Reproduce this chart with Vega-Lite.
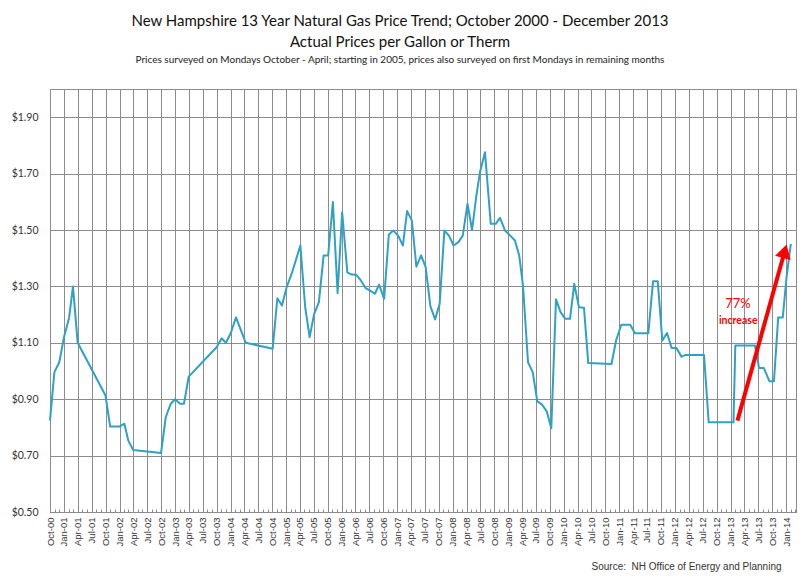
{
  "$schema": "https://vega.github.io/schema/vega-lite/v6.json",
  "autosize": "none",
  "width": 746,
  "height": 423,
  "padding": {"left": 50, "top": 89, "right": 4, "bottom": 69},
  "background": "white",
  "title": {
    "text": ["New Hampshire 13 Year Natural Gas Price Trend; October 2000 - December 2013", "Actual Prices per Gallon or Therm"],
    "subtitle": "Prices surveyed on Mondays  October - April; starting in 2005, prices also surveyed on first Mondays in remaining months",
    "anchor": "middle",
    "frame": "group",
    "dx": -23,
    "offset": 24,
    "font": "Lato",
    "fontSize": 15,
    "fontWeight": "normal",
    "lineHeight": 21,
    "color": "#111",
    "subtitleFont": "Lato",
    "subtitleFontSize": 10,
    "subtitleColor": "#222",
    "subtitlePadding": 5
  },
  "layer": [
    {
      "data": {"values": [
        {"date": "2000-10-01", "price": 0.824}, {"date": "2000-10-30", "price": 0.996}, {"date": "2000-12-01", "price": 1.031},
        {"date": "2001-01-01", "price": 1.12}, {"date": "2001-02-04", "price": 1.19}, {"date": "2001-03-01", "price": 1.30},
        {"date": "2001-04-01", "price": 1.10}, {"date": "2001-10-01", "price": 0.913}, {"date": "2001-11-01", "price": 0.803},
        {"date": "2002-01-01", "price": 0.803}, {"date": "2002-02-02", "price": 0.813}, {"date": "2002-02-28", "price": 0.753},
        {"date": "2002-04-01", "price": 0.72}, {"date": "2002-10-01", "price": 0.709}, {"date": "2002-11-01", "price": 0.836},
        {"date": "2002-12-04", "price": 0.884}, {"date": "2003-01-01", "price": 0.90}, {"date": "2003-02-04", "price": 0.884},
        {"date": "2003-03-01", "price": 0.884}, {"date": "2003-04-01", "price": 0.98}, {"date": "2003-10-01", "price": 1.084},
        {"date": "2003-11-04", "price": 1.116}, {"date": "2003-12-01", "price": 1.10}, {"date": "2004-01-01", "price": 1.132},
        {"date": "2004-02-06", "price": 1.19}, {"date": "2004-04-10", "price": 1.10}, {"date": "2004-10-04", "price": 1.079},
        {"date": "2004-11-04", "price": 1.258}, {"date": "2004-12-04", "price": 1.232}, {"date": "2005-01-04", "price": 1.297},
        {"date": "2005-02-06", "price": 1.345}, {"date": "2005-04-04", "price": 1.445}, {"date": "2005-05-06", "price": 1.226},
        {"date": "2005-06-04", "price": 1.12}, {"date": "2005-07-04", "price": 1.203}, {"date": "2005-08-04", "price": 1.244},
        {"date": "2005-09-04", "price": 1.41}, {"date": "2005-10-04", "price": 1.41}, {"date": "2005-11-04", "price": 1.599},
        {"date": "2005-12-05", "price": 1.276}, {"date": "2006-01-04", "price": 1.563}, {"date": "2006-02-07", "price": 1.35},
        {"date": "2006-03-07", "price": 1.342}, {"date": "2006-04-07", "price": 1.341}, {"date": "2006-05-07", "price": 1.321},
        {"date": "2006-06-07", "price": 1.294}, {"date": "2006-07-07", "price": 1.285}, {"date": "2006-08-07", "price": 1.274},
        {"date": "2006-09-04", "price": 1.306}, {"date": "2006-10-07", "price": 1.256}, {"date": "2006-11-07", "price": 1.484},
        {"date": "2006-12-07", "price": 1.498}, {"date": "2007-01-07", "price": 1.48}, {"date": "2007-02-07", "price": 1.445},
        {"date": "2007-03-07", "price": 1.567}, {"date": "2007-04-07", "price": 1.534}, {"date": "2007-05-07", "price": 1.37},
        {"date": "2007-06-07", "price": 1.41}, {"date": "2007-07-07", "price": 1.368}, {"date": "2007-08-07", "price": 1.23},
        {"date": "2007-09-07", "price": 1.183}, {"date": "2007-10-07", "price": 1.238}, {"date": "2007-11-07", "price": 1.498},
        {"date": "2007-12-07", "price": 1.48}, {"date": "2008-01-07", "price": 1.445}, {"date": "2008-02-07", "price": 1.457},
        {"date": "2008-03-07", "price": 1.48}, {"date": "2008-04-07", "price": 1.593}, {"date": "2008-05-07", "price": 1.50},
        {"date": "2008-06-04", "price": 1.62}, {"date": "2008-06-28", "price": 1.705}, {"date": "2008-07-31", "price": 1.776},
        {"date": "2008-09-07", "price": 1.522}, {"date": "2008-10-10", "price": 1.522}, {"date": "2008-11-07", "price": 1.543},
        {"date": "2008-12-10", "price": 1.498}, {"date": "2009-01-13", "price": 1.48}, {"date": "2009-02-13", "price": 1.463},
        {"date": "2009-03-13", "price": 1.41}, {"date": "2009-04-07", "price": 1.303}, {"date": "2009-05-10", "price": 1.031},
        {"date": "2009-06-10", "price": 0.996}, {"date": "2009-07-10", "price": 0.892}, {"date": "2009-08-10", "price": 0.881},
        {"date": "2009-09-10", "price": 0.857}, {"date": "2009-10-10", "price": 0.797}, {"date": "2009-11-10", "price": 1.254},
        {"date": "2009-12-10", "price": 1.209}, {"date": "2010-01-10", "price": 1.185}, {"date": "2010-02-10", "price": 1.185},
        {"date": "2010-03-10", "price": 1.309}, {"date": "2010-04-10", "price": 1.226}, {"date": "2010-05-13", "price": 1.224},
        {"date": "2010-06-10", "price": 1.028}, {"date": "2010-11-10", "price": 1.025}, {"date": "2010-12-10", "price": 1.108},
        {"date": "2011-01-13", "price": 1.164}, {"date": "2011-03-13", "price": 1.164}, {"date": "2011-04-13", "price": 1.134},
        {"date": "2011-07-10", "price": 1.134}, {"date": "2011-08-10", "price": 1.318}, {"date": "2011-09-10", "price": 1.318},
        {"date": "2011-10-10", "price": 1.108}, {"date": "2011-11-10", "price": 1.135}, {"date": "2011-12-10", "price": 1.082},
        {"date": "2012-01-10", "price": 1.082}, {"date": "2012-02-13", "price": 1.051}, {"date": "2012-03-13", "price": 1.057},
        {"date": "2012-07-10", "price": 1.057}, {"date": "2012-08-10", "price": 0.818}, {"date": "2013-01-20", "price": 0.818},
        {"date": "2013-02-01", "price": 1.09}, {"date": "2013-06-10", "price": 1.09}, {"date": "2013-07-07", "price": 1.011},
        {"date": "2013-08-07", "price": 1.011}, {"date": "2013-09-13", "price": 0.964}, {"date": "2013-10-13", "price": 0.964},
        {"date": "2013-11-10", "price": 1.19}, {"date": "2013-12-10", "price": 1.19}, {"date": "2014-01-04", "price": 1.333},
        {"date": "2014-02-01", "price": 1.451}
      ]},
      "mark": {"type": "line", "color": "#2ea2c4", "strokeWidth": 2, "strokeJoin": "round"},
      "encoding": {
        "x": {
          "field": "date", "type": "temporal",
          "scale": {"type": "utc", "domain": [{"year": 2000, "month": 10, "date": 1, "utc": true}, {"year": 2014, "month": 3, "date": 7, "utc": true}]},
          "axis": {
            "orient": "bottom",
            "tickCount": {"interval": "month", "step": 3},
            "labelExpr": "utcFormat(datum.value, '%b-%y')",
            "labelAngle": 270, "labelFont": "Liberation Sans", "labelFontSize": 9.5, "labelColor": "#333",
            "labelPadding": 5, "labelOverlap": false, "labelBound": false, "labelFlush": false,
            "ticks": false, "grid": true, "gridColor": "#8c8c8c", "gridOpacity": 1,
            "domainColor": "#8c8c8c",
            "title": "Source: \u00a0NH Office of Energy and Planning",
            "titleFont": "Liberation Sans", "titleFontSize": 10, "titleFontWeight": "normal", "titleColor": "#333",
            "titleX": 731, "titleY": 54, "titleAlign": "right", "titleBaseline": "middle"
          }
        },
        "y": {
          "field": "price", "type": "quantitative",
          "scale": {"domain": [0.5, 2.0], "nice": false, "zero": false},
          "axis": {
            "values": [0.5, 0.7, 0.9, 1.1, 1.3, 1.5, 1.7, 1.9],
            "format": "$.2f",
            "labelFont": "Lato", "labelFontSize": 10.5, "labelColor": "#333", "labelPadding": 12,
            "ticks": false, "grid": true, "gridColor": "#8c8c8c", "gridOpacity": 1,
            "domainColor": "#8c8c8c", "title": null
          }
        }
      }
    },
    {
      "data": {"values": [{"date": "2013-02-15", "price": 0.824, "date2": "2013-12-23", "price2": 1.425}]},
      "mark": {"type": "rule", "color": "#ff0000", "strokeWidth": 4},
      "encoding": {
        "x": {
          "field": "date", "type": "temporal",
          "axis": {
            "orient": "bottom",
            "offset": -3,
            "tickCount": {"interval": "month", "step": 1},
            "labels": false, "grid": false, "domain": false,
            "ticks": true, "tickSize": 3, "tickWidth": 1, "tickColor": "#8c8c8c", "title": null
          }
        },
        "x2": {"field": "date2"},
        "y": {"field": "price", "type": "quantitative"},
        "y2": {"field": "price2"}
      }
    },
    {
      "data": {"values": [{"date": "2013-12-23", "price": 1.425}]},
      "mark": {"type": "point", "shape": "triangle-up", "filled": true, "color": "#ff0000", "opacity": 1, "size": 260, "angle": 15.7},
      "encoding": {
        "x": {"field": "date", "type": "temporal", "axis": null},
        "y": {"field": "price", "type": "quantitative"}
      }
    },
    {
      "data": {"values": [{"date": "2013-02-18", "price": 1.239, "label": "77%"}]},
      "mark": {"type": "text", "color": "#ff0000", "font": "Lato", "fontSize": 13, "baseline": "middle"},
      "encoding": {
        "x": {"field": "date", "type": "temporal", "axis": null},
        "y": {"field": "price", "type": "quantitative"},
        "text": {"field": "label"}
      }
    },
    {
      "data": {"values": [{"date": "2013-02-20", "price": 1.179, "label": "increase"}]},
      "mark": {"type": "text", "color": "#ff0000", "font": "Lato", "fontSize": 10.5, "fontWeight": "bold", "baseline": "middle"},
      "encoding": {
        "x": {"field": "date", "type": "temporal", "axis": null},
        "y": {"field": "price", "type": "quantitative"},
        "text": {"field": "label"}
      }
    }
  ],
  "resolve": {"axis": {"x": "independent"}},
  "config": {
    "view": {"stroke": "#8c8c8c"}
  }
}
